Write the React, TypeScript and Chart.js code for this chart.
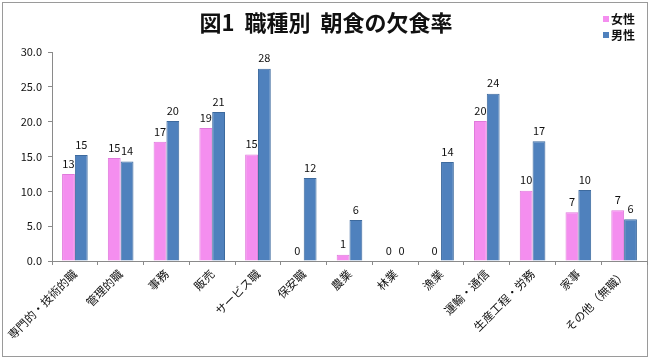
import React, { useEffect, useRef } from "react";
import { Chart, registerables } from "chart.js";

Chart.register(...registerables);

const categories = [
  "専門的・技術的職",
  "管理的職",
  "事務",
  "販売",
  "サービス職",
  "保安職",
  "農業",
  "林業",
  "漁業",
  "運輸・通信",
  "生産工程・労務",
  "家事",
  "その他（無職）",
];
const femaleValues = [12.5, 14.8, 17.1, 19.1, 15.3, 0, 0.9, 0, 0, 20.1, 10.1, 7.0, 7.3];
const maleValues = [15.2, 14.3, 20.1, 21.4, 27.6, 11.9, 5.9, 0, 14.2, 24.0, 17.2, 10.2, 6.0];
const seriesNames = ["女性", "男性"];
const titleText = "図1  職種別  朝食の欠食率";

const PINK = "#F48EEF";
const BLUE = "#4F81BD";
const FONT = "'Noto Sans CJK JP', 'Noto Sans', sans-serif";

const framePlugin = {
  id: "frame",
  beforeDraw(chart: any) {
    const ctx = chart.ctx;
    ctx.save();
    ctx.fillStyle = "#ffffff";
    ctx.fillRect(0, 0, chart.width, chart.height);
    ctx.strokeStyle = "#9a9a9a";
    ctx.lineWidth = 1;
    ctx.strokeRect(2.5, 2.5, chart.width - 5, chart.height - 5);
    ctx.restore();
  },
  afterDraw(chart: any) {
    const ctx = chart.ctx;
    ctx.save();
    // title
    ctx.fillStyle = "#111";
    ctx.font = `bold 22px ${FONT}`;
    ctx.textAlign = "center";
    ctx.textBaseline = "middle";
    ctx.fillText(titleText, 326, 23);
    // legend
    const colors = [PINK, BLUE];
    ctx.font = `bold 12px ${FONT}`;
    ctx.textAlign = "left";
    seriesNames.forEach((name, i) => {
      const y = 19 + i * 16;
      ctx.fillStyle = colors[i];
      ctx.fillRect(603, y - 3, 6, 6);
      ctx.fillStyle = "#111";
      ctx.fillText(name, 611, y);
    });
    // data labels
    ctx.font = `11px ${FONT}`;
    ctx.fillStyle = "#111";
    ctx.textAlign = "center";
    ctx.textBaseline = "bottom";
    chart.data.datasets.forEach((ds: any, di: number) => {
      const meta = chart.getDatasetMeta(di);
      meta.data.forEach((bar: any, i: number) => {
        const v = ds.data[i];
        ctx.fillText(String(Math.round(v)), bar.x, bar.y - 5);
      });
    });
    ctx.restore();
  },
};

export default function App() {
  const ref = useRef<HTMLCanvasElement>(null);
  useEffect(() => {
    if (!ref.current) return;
    const chart = new Chart(ref.current, {
      type: "bar",
      data: {
        labels: categories,
        datasets: [
          {
            label: seriesNames[0],
            data: femaleValues,
            backgroundColor: PINK,
            borderColor: "#E07ADB",
            borderWidth: 1,
            categoryPercentage: 0.56,
            barPercentage: 1.0,
          },
          {
            label: seriesNames[1],
            data: maleValues,
            backgroundColor: BLUE,
            borderColor: "#3D6A9E",
            borderWidth: 1,
            categoryPercentage: 0.56,
            barPercentage: 1.0,
          },
        ],
      },
      options: {
        responsive: false,
        animation: false,
        layout: { padding: { top: 52, right: 3, left: 6, bottom: 6 } },
        plugins: {
          legend: { display: false },
          title: { display: false },
          tooltip: { enabled: false },
        },
        scales: {
          x: {
            offset: true,
            grid: {
              offset: true,
              drawOnChartArea: false,
              drawTicks: true,
              tickLength: 4,
              color: "#8a8a8a",
            },
            border: { color: "#8a8a8a" },
            ticks: {
              maxRotation: 45,
              minRotation: 45,
              autoSkip: false,
              color: "#111",
              font: { family: FONT, size: 11.5 },
              padding: 2,
            },
            afterFit(scale: any) {
              scale.height = 92;
            },
          },
          y: {
            min: 0,
            max: 30,
            ticks: {
              stepSize: 5,
              color: "#111",
              font: { family: FONT, size: 11 },
              callback: (v: any) => Number(v).toFixed(1),
              padding: 6,
            },
            grid: {
              drawOnChartArea: false,
              drawTicks: true,
              tickLength: 4,
              color: "#8a8a8a",
            },
            border: { color: "#8a8a8a" },
            afterFit(scale: any) {
              scale.width = 46;
            },
          },
        },
      },
      plugins: [framePlugin],
    });
    return () => chart.destroy();
  }, []);
  return (
    <div style={{ position: "absolute", left: 0, top: 0, width: 650, height: 359 }}>
      <canvas ref={ref} width={650} height={359} style={{ width: 650, height: 359, display: "block" }} />
    </div>
  );
}
